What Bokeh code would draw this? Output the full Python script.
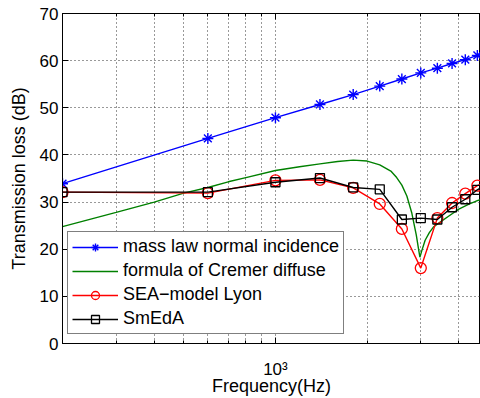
from bokeh.plotting import figure
from bokeh.models import (FixedTicker, Legend, LegendItem, Range1d, LogAxis)
from bokeh.embed import file_html
from bokeh.resources import INLINE

# ---- data ----
freq = [200, 600, 1000, 1400, 1800, 2200, 2600, 3000, 3400, 3800, 4200, 4600, 5000]
mass_law = [33.9, 43.5, 47.9, 50.7, 52.8, 54.6, 56.1, 57.4, 58.4, 59.4, 60.2, 61.1, 61.9]
sea_lyon = [32.1, 31.9, 34.6, 34.7, 33.0, 29.6, 24.3, 16.0, 26.6, 29.8, 31.8, 33.5, 34.5]
smeda = [32.1, 32.1, 34.2, 35.1, 33.1, 32.7, 26.3, 26.6, 26.3, 28.9, 30.6, 32.6, 34.0]

cremer_freq = [200, 300, 400, 500, 600, 700, 800, 1000, 1200, 1400, 1600, 1800, 2000,
               2200, 2400, 2500, 2600, 2700, 2800, 2900, 2950, 2980, 3020, 3100, 3200,
               3300, 3500, 3700, 4000, 4300, 4600, 5000]
cremer = [24.8, 27.8, 30.0, 31.9, 33.1, 34.3, 35.2, 36.7, 37.5, 38.1, 38.6, 38.9, 38.7,
          37.9, 36.5, 35.2, 33.6, 31.3, 27.8, 23.0, 20.0, 18.3, 19.6, 21.9, 23.5,
          24.7, 25.9, 27.0, 28.5, 29.5, 30.3, 31.2]

y_ticks = [0, 10, 20, 30, 40, 50, 60, 70]
x_major = [1000]
x_major_labels = {1000: "10\u00b3"}
x_minor = [200, 300, 400, 500, 600, 700, 800, 900, 2000, 3000, 4000, 5000]

FONT = "Liberation Sans"

p = figure(width=480, height=398, x_axis_type="log",
           x_range=Range1d(200, 4711), y_range=Range1d(0, 70),
           output_backend="svg", toolbar_location=None,
           min_border_left=62, min_border_right=0, min_border_top=13, min_border_bottom=55)
p.background_fill_color = "white"
p.border_fill_color = "white"
p.outline_line_color = "black"
p.outline_line_width = 1

xt = FixedTicker(ticks=x_major, minor_ticks=x_minor)
p.xaxis.ticker = xt
p.xgrid.ticker = xt
p.yaxis.ticker = FixedTicker(ticks=y_ticks, minor_ticks=[])
p.ygrid.ticker = FixedTicker(ticks=y_ticks)

for ax in (p.xaxis[0], p.yaxis[0]):
    ax.axis_line_color = "black"
    ax.major_tick_in = 6
    ax.major_tick_out = 0
    ax.minor_tick_in = 3
    ax.minor_tick_out = 0
    ax.major_tick_line_color = "black"
    ax.minor_tick_line_color = "black"
    ax.major_label_text_font = FONT
    ax.major_label_text_font_size = "17px"
    ax.major_label_text_color = "black"
    ax.axis_label_text_font = FONT
    ax.axis_label_text_font_size = "18px"
    ax.axis_label_text_font_style = "normal"
    ax.axis_label_text_color = "black"

p.xaxis.major_label_overrides = x_major_labels
p.xaxis.major_label_standoff = 16
p.xaxis.axis_label = "Frequency(Hz)"
p.xaxis.axis_label_standoff = -6
p.yaxis.major_label_standoff = 4
p.yaxis.axis_label = "Transmission loss (dB)"
p.yaxis.axis_label_standoff = 8

# mirrored inward ticks on the top edge (box style)
top_axis = LogAxis(ticker=xt, major_label_overrides={1000: ""},
                   major_label_text_font_size="1px", major_label_standoff=0,
                   axis_line_color="black", major_tick_in=6, major_tick_out=0,
                   minor_tick_in=3, minor_tick_out=0)
p.add_layout(top_axis, "above")

for g in (p.xgrid[0], p.ygrid[0]):
    g.grid_line_color = "#333333"
    g.grid_line_dash = "1 3"
    g.grid_line_width = 1
p.xgrid.minor_grid_line_color = "#333333"
p.xgrid.minor_grid_line_dash = "1 3"

# series
l1 = p.line(freq, mass_law, line_color="#0000ff", line_width=1.4)
m1 = p.scatter(freq, mass_law, marker="asterisk", size=11, line_color="#0000ff", line_width=1.4)
l2 = p.line(cremer_freq, cremer, line_color="#008000", line_width=1.4)
l3 = p.line(freq, sea_lyon, line_color="#ff0000", line_width=1.4)
m3 = p.scatter(freq, sea_lyon, marker="circle", size=11, line_color="#ff0000",
               fill_color=None, line_width=1.3)
l4 = p.line(freq, smeda, line_color="black", line_width=1.4)
m4 = p.scatter(freq, smeda, marker="square", size=9, line_color="black",
               fill_color=None, line_width=1.3)

legend = Legend(items=[
    LegendItem(label="mass law normal incidence", renderers=[l1, m1]),
    LegendItem(label="formula of Cremer diffuse", renderers=[l2]),
    LegendItem(label="SEA\u2212model Lyon", renderers=[l3, m3]),
    LegendItem(label="SmEdA", renderers=[l4, m4]),
], location=(5, 9))
legend.label_text_font = FONT
legend.label_text_font_size = "18px"
legend.label_text_color = "black"
legend.glyph_width = 46
legend.glyph_height = 20
legend.label_height = 20
legend.spacing = 3
legend.padding = 4
legend.margin = 0
legend.label_standoff = 5
legend.border_line_color = "black"
legend.border_line_width = 1
legend.background_fill_color = "white"
legend.background_fill_alpha = 1
p.add_layout(legend)

open("out.html", "w").write(file_html(p, INLINE))
